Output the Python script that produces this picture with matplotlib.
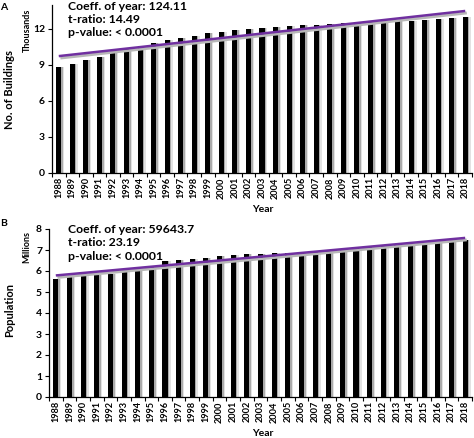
import numpy as np
import matplotlib
matplotlib.use("Agg")
import matplotlib.pyplot as plt

years = list(range(1988, 2019))
buildings_thousands = [8.80, 9.08, 9.39, 9.67, 10.00, 10.33, 10.58, 10.86, 11.06, 11.25,
                       11.44, 11.64, 11.75, 11.89, 12.00, 12.08, 12.17, 12.22, 12.31, 12.36,
                       12.42, 12.47, 12.50, 12.56, 12.61, 12.64, 12.69, 12.78, 12.83, 12.92, 13.00]
population_millions = [5.63, 5.72, 5.74, 5.79, 5.85, 5.95, 6.08, 6.20, 6.47, 6.52,
                       6.57, 6.63, 6.70, 6.76, 6.79, 6.80, 6.84, 6.85, 6.88, 6.92,
                       6.97, 7.02, 7.08, 7.12, 7.20, 7.23, 7.26, 7.31, 7.36, 7.42, 7.48]
stats_a = ["Coeff. of year: 124.11", "t-ratio: 14.49", "p-value: < 0.0001"]
stats_b = ["Coeff. of year: 59643.7", "t-ratio: 23.19", "p-value: < 0.0001"]

FONT = "Lato"
plt.rcParams['font.family'] = [FONT, 'DejaVu Sans']
plt.rcParams['font.weight'] = 'bold'

W, H = 474, 438
fig = plt.figure(figsize=(W / 100, H / 100), dpi=100)

def px(x, y):
    return x / W, 1 - y / H

def panel(rect, values, ylim, yticks, stats, ylab, unit, letter, lab_y, unit_y, year_y, letter_y, text_y):
    l, t, r, b = rect
    ax = fig.add_axes([l / W, 1 - b / H, (r - l) / W, (b - t) / H])
    x = np.arange(len(years))
    # soft shadows
    ax.bar(x + 0.22, values, width=0.37, color='#e2e2e2', zorder=1, linewidth=0)
    ax.bar(x + 0.12, values, width=0.37, color='#ababab', zorder=2, linewidth=0)
    ax.bar(x, values, width=0.37, color='black', zorder=3, linewidth=0)
    # trend line (least squares)
    k, c = np.polyfit(x, values, 1)
    fit = k * x + c
    ax.plot(x + 0.12, fit - (ylim[1] * 0.012), color='#b8b8b8', lw=2.0, zorder=4, solid_capstyle='butt')
    ax.plot(x, fit, color='#7030A0', lw=1.8, zorder=5, solid_capstyle='butt')
    ax.set_xlim(-0.5, len(years) - 0.5)
    ax.set_ylim(*ylim)
    ax.set_yticks(yticks)
    ax.set_yticklabels([str(v) for v in yticks], fontsize=7.5, fontweight='bold')
    ax.set_xticks(x)
    ax.set_xticklabels([str(v) for v in years], rotation=90, fontsize=6.6, fontweight='bold')
    ax.set_xticks(np.arange(len(years) + 1) - 0.5, minor=True)
    ax.tick_params(axis='x', which='major', length=0, pad=3)
    ax.tick_params(axis='x', which='minor', length=3, width=0.8, direction='out')
    ax.tick_params(axis='y', length=3, width=0.8, direction='out', pad=2)
    for s in ['top', 'right']:
        ax.spines[s].set_visible(False)
    for s in ['left', 'bottom']:
        ax.spines[s].set_linewidth(0.9)
    for i, s in enumerate(stats):
        fig.text(68 / W, 1 - (text_y + 13.5 * i) / H, s, fontsize=8.8, fontweight='bold', va='center', ha='left')
    fig.text(*px(10, lab_y), ylab, rotation=90, fontsize=8, fontweight='bold', ha='center', va='center')
    fig.text(*px(27, unit_y), unit, rotation=90, fontsize=6.5, fontweight='bold', ha='center', va='center')
    fig.text(*px(263, year_y), "Year", fontsize=7.5, fontweight='bold', ha='center', va='center')
    fig.text(*px(4, letter_y), letter, fontsize=7.5, fontweight='bold', ha='center', va='center')
    return ax

panel((52, 5, 472, 173), buildings_thousands, (0, 14), [0, 3, 6, 9, 12], stats_a,
      "No. of Buildings", "Thousands", "A", 90, 30, 210, 7, 6)
panel((49, 229, 472, 397), population_millions, (0, 8), list(range(0, 9)), stats_b,
      "Population", "Millions", "B", 310, 247, 433, 224, 229)

fig.savefig("out.png", dpi=100)
